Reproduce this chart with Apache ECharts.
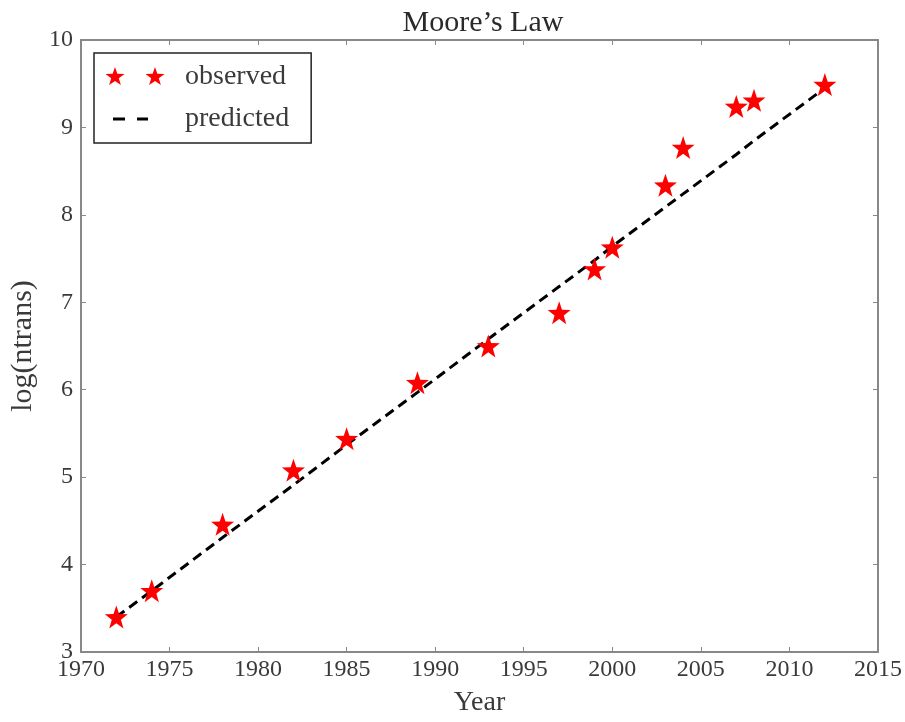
<!DOCTYPE html>
<html>
<head>
<meta charset="utf-8">
<script src="https://cdn.jsdelivr.net/npm/echarts@6/dist/echarts.min.js"></script>
<style>html,body{margin:0;padding:0;background:#fff;overflow:hidden}#chart{width:905px;height:722px}</style>
</head>
<body>
<div id="chart"></div>
<script>
// Data
var years = [1972, 1974, 1978, 1982, 1985, 1989, 1993, 1997, 1999, 2000, 2003, 2004, 2007, 2008, 2012];
var observed = [3.40, 3.70, 4.46, 5.08, 5.44, 6.08, 6.50, 6.88, 7.38, 7.63, 8.34, 8.77, 9.24, 9.31, 9.49];
var predicted = [3.40, 3.70, 4.31, 4.91, 5.37, 5.97, 6.58, 7.18, 7.48, 7.64, 8.09, 8.24, 8.69, 8.85, 9.45];
var xTicks = [1970, 1975, 1980, 1985, 1990, 1995, 2000, 2005, 2010, 2015];
var yTicks = [3, 4, 5, 6, 7, 8, 9, 10];

var FONT = 'Liberation Serif';
var TXT = '#3a3a3a';
var AX = '#888';
var starPath = 'path://M0,-10 L2.35,-3.24 9.51,-3.09 3.80,1.24 5.88,8.09 0,4 -5.88,8.09 -3.80,1.24 -9.51,-3.09 -2.35,-3.24 Z';
var legendStars = 'path://M0,-10 M75,10 ' +
  'M10,-10 L12.35,-3.24 19.51,-3.09 13.80,1.24 15.88,8.09 10,4 4.12,8.09 6.20,1.24 0.49,-3.09 7.65,-3.24 Z ' +
  'M50,-10 L52.35,-3.24 59.51,-3.09 53.80,1.24 55.88,8.09 50,4 44.12,8.09 46.20,1.24 40.49,-3.09 47.65,-3.24 Z';
var legendDash = 'path://M0,-10 M75,10 M8,-1.5 L20,-1.5 L20,1.5 L8,1.5 Z M32,-1.5 L43,-1.5 L43,1.5 L32,1.5 Z';

function pairs(xs, ys) { return xs.map(function (x, i) { return [x, ys[i]]; }); }

var chart = echarts.init(document.getElementById('chart'), null, {renderer: 'canvas'});
var axisCommon = {
  axisLine: {show: true, onZero: false, lineStyle: {color: AX, width: 2}},
  axisTick: {show: true, inside: true, length: 5, lineStyle: {color: AX, width: 1}},
  splitLine: {show: false}
};
chart.setOption({
  animation: false,
  backgroundColor: '#fff',
  title: {
    text: 'Moore\u2019s Law', left: 478, textAlign: 'center', top: 3,
    textStyle: {fontFamily: FONT, fontSize: 30, fontWeight: 'normal', color: '#2a2a2a'}
  },
  grid: {left: 80, top: 40, width: 800, height: 619, containLabel: false},
  legend: {
    left: 94, top: 53, orient: 'vertical',
    padding: [10, 22, 10, 11], itemGap: 14,
    itemWidth: 75, itemHeight: 20,
    borderColor: '#222', borderWidth: 1.5, backgroundColor: '#fff',
    textStyle: {fontFamily: FONT, fontSize: 28, color: TXT},
    data: [
      {name: 'observed', icon: legendStars, itemStyle: {color: '#ff0000'}},
      {name: 'predicted', icon: legendDash, itemStyle: {color: '#000'}}
    ]
  },
  xAxis: [
    Object.assign({
      type: 'value', min: xTicks[0], max: xTicks[xTicks.length - 1], interval: 5,
      name: 'Year', nameLocation: 'middle', nameGap: 37,
      nameTextStyle: {fontFamily: FONT, fontSize: 28, color: TXT},
      axisLabel: {fontFamily: FONT, fontSize: 24, color: TXT, margin: 6, showMinLabel: true, showMaxLabel: true,
        formatter: function (v) { return String(v); }}
    }, axisCommon),
    Object.assign({
      type: 'value', position: 'top', min: xTicks[0], max: xTicks[xTicks.length - 1], interval: 5,
      axisLabel: {show: false}
    }, axisCommon)
  ],
  yAxis: [
    Object.assign({
      type: 'value', min: yTicks[0], max: yTicks[yTicks.length - 1], interval: 1,
      name: 'log(ntrans)', nameLocation: 'middle', nameGap: 42, nameRotate: 90,
      nameTextStyle: {fontFamily: FONT, fontSize: 30, color: TXT},
      axisLabel: {fontFamily: FONT, fontSize: 24, color: TXT, margin: 8, showMinLabel: true, showMaxLabel: true}
    }, axisCommon),
    Object.assign({
      type: 'value', position: 'right', min: yTicks[0], max: yTicks[yTicks.length - 1], interval: 1,
      axisLabel: {show: false}
    }, axisCommon)
  ],
  series: [
    {
      name: 'predicted', type: 'line', data: pairs(years, predicted),
      symbol: 'none', z: 2,
      lineStyle: {color: '#000', width: 3, type: [10, 6]},
      itemStyle: {color: '#000'}
    },
    {
      name: 'observed', type: 'scatter', data: pairs(years, observed),
      symbol: starPath, symbolSize: 23, z: 3,
      itemStyle: {color: '#ff0000', opacity: 1}
    }
  ]
});
</script>
</body>
</html>
